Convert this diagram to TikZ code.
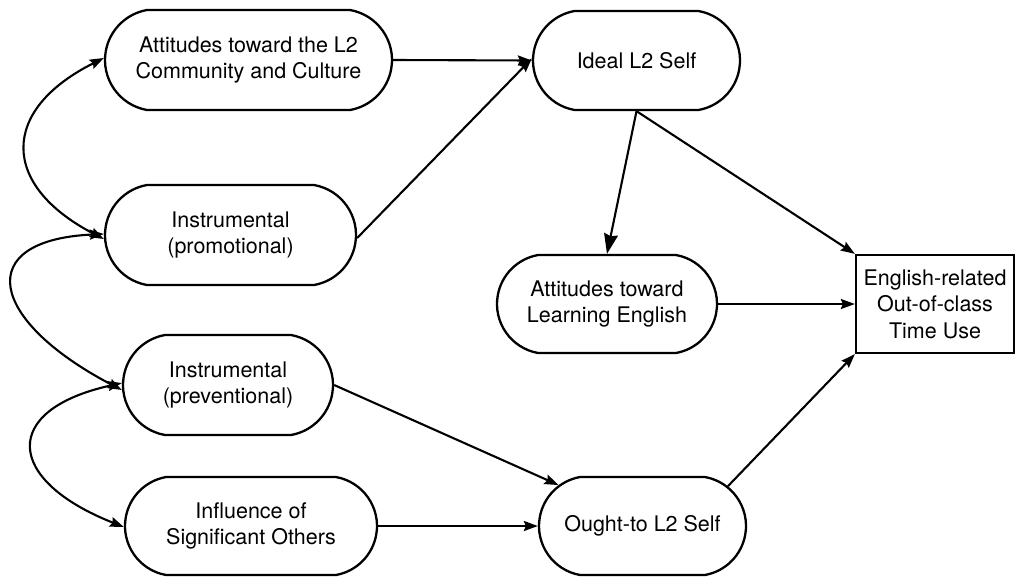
\documentclass[tikz,border=0pt]{standalone}
\usepackage{fontspec}
\setmainfont{TeX Gyre Heros}
\usetikzlibrary{shapes.misc,arrows.meta}
\begin{document}
\begin{tikzpicture}[x=1pt,y=-1pt,
  every node/.style={font=\fontsize{21.5}{26.5}\selectfont, align=center, inner sep=0pt},
  pill/.style={draw, line width=2.3pt, rounded rectangle, rounded rectangle arc length=160},
  boxnode/.style={draw, line width=2.3pt, rectangle},
  link/.style={line width=2.1pt, -{Stealth[length=14pt,width=10pt,inset=2pt]}},
  biglink/.style={line width=2.1pt, -{Stealth[length=20pt,width=14pt,inset=2pt]}},
  both/.style={line width=2.1pt, {Stealth[length=14pt,width=10pt,inset=2pt]}-{Stealth[length=14pt,width=10pt,inset=2pt]}}]
\useasboundingbox (0,0) rectangle (1016,576);

% motivational factors (left column)
\node[pill, minimum width=287pt, minimum height=100pt] (A) at (248.5,60) {Attitudes toward the L2\\Community and Culture};
\node[pill, minimum width=251pt, minimum height=100pt] (B) at (230.5,235) {Instrumental\\(promotional)};
\node[pill, minimum width=210pt, minimum height=100pt] (C) at (228,385) {Instrumental\\(preventional)};
\node[pill, minimum width=252pt, minimum height=98pt] (D) at (251,526) {Influence of\\Significant Others};

% self guides and attitudes
\node[pill, minimum width=207pt, minimum height=99pt] (E) at (636.5,60.5) {Ideal L2 Self};
\node[pill, minimum width=220pt, minimum height=98pt] (F) at (607,304) {Attitudes toward\\Learning English};
\node[pill, minimum width=207pt, minimum height=98pt] (H) at (642.5,526) {Ought-to L2 Self};

% outcome
\node[boxnode, minimum width=158pt, minimum height=98pt] (G) at (935,304) {English-related\\Out-of-class\\Time Use};

% correlations between left-column factors
\draw[both] ([yshift=2pt]A.west) .. controls (0,110) and (0,185) .. ([yshift=-4pt]B.west);
\draw[both] ([yshift=1pt]B.west) .. controls (-28,240) and (-12,320) .. ([yshift=-5pt]C.west);
\draw[both] ([yshift=2pt]C.west) .. controls (0,410) and (5,480) .. ([yshift=-1pt]D.west);

% paths
\draw[link] (A.east) -- (E.west);
\draw[link] ([yshift=-3pt]B.east) -- ([yshift=2pt]E.west);
\draw[biglink] (E.south) -- (F.north);
\draw[link] (E.south) -- (G.north west);
\draw[link] (F.east) -- (G.west);
\draw[link] (C.east) -- (H.154);
\draw[link] (D.east) -- (H.west);
\draw[link] (H.25) -- (G.south west);
\end{tikzpicture}
\end{document}
